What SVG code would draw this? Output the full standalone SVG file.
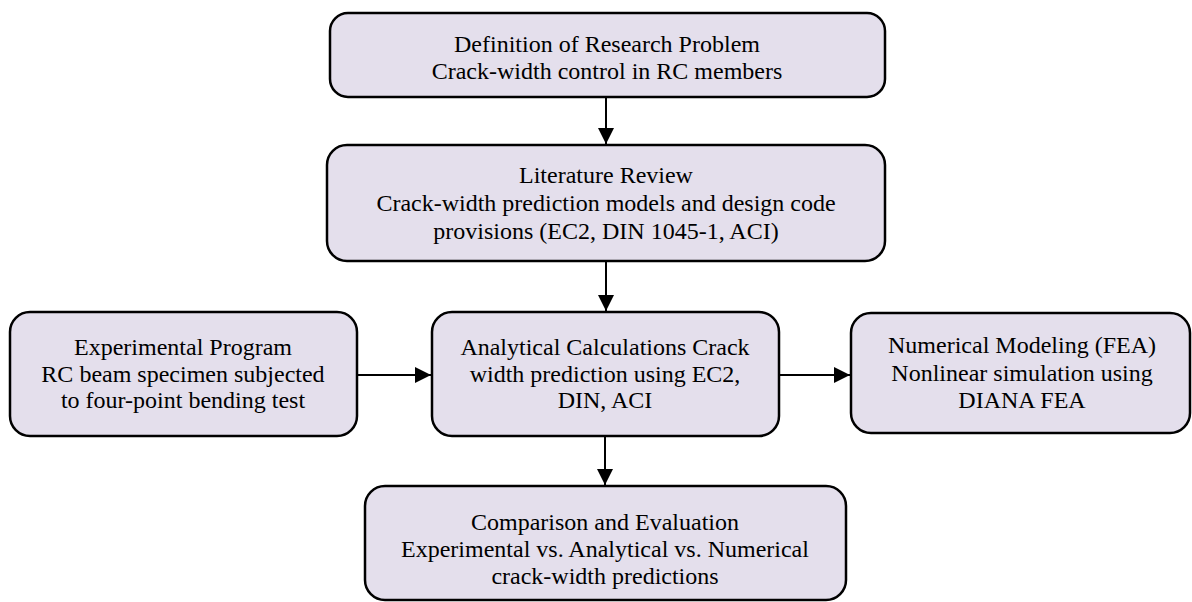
<svg xmlns="http://www.w3.org/2000/svg" width="1192" height="602" viewBox="0 0 1192 602">
<defs>
<style>
.box{fill:#e4dfec;stroke:#000;stroke-width:2.5}
.t{font-family:"Liberation Serif","Times New Roman",serif;font-size:24px;fill:#000;text-anchor:middle}
.c{stroke:#000;stroke-width:2;fill:none;marker-end:url(#ah)}
</style>
<marker id="ah" viewBox="0 0 16 16" refX="16" refY="8" markerWidth="16" markerHeight="16" markerUnits="userSpaceOnUse" orient="auto">
<path d="M0,0 L16,8 L0,16 Z" fill="#000"/>
</marker>
</defs>
<rect width="1192" height="602" fill="#fff"/>
<g id="connectors">
<line class="c" x1="606" y1="97" x2="606" y2="144"/>
<line class="c" x1="606" y1="261" x2="606" y2="311"/>
<line class="c" x1="357" y1="375" x2="431" y2="375"/>
<line class="c" x1="779" y1="375" x2="850" y2="375"/>
<line class="c" x1="605" y1="436" x2="605" y2="485"/>
</g>
<g id="n1">
<rect class="box" x="330" y="13" width="555" height="84" rx="18"/>
<text class="t" x="607" y="52">Definition of Research Problem</text>
<text class="t" x="607" y="79">Crack-width control in RC members</text>
</g>
<g id="n2">
<rect class="box" x="327" y="145" width="558" height="116" rx="20"/>
<text class="t" x="606" y="183">Literature Review</text>
<text class="t" x="606" y="211">Crack-width prediction models and design code</text>
<text class="t" x="606" y="239">provisions (EC2, DIN 1045-1, ACI)</text>
</g>
<g id="n3">
<rect class="box" x="10" y="312" width="347" height="124" rx="20"/>
<text class="t" x="183" y="355">Experimental Program</text>
<text class="t" x="183" y="382">RC beam specimen subjected</text>
<text class="t" x="183" y="408">to four-point bending test</text>
</g>
<g id="n4">
<rect class="box" x="432" y="312" width="347" height="124" rx="20"/>
<text class="t" x="605" y="355">Analytical Calculations Crack</text>
<text class="t" x="605" y="382">width prediction using EC2,</text>
<text class="t" x="605" y="408">DIN, ACI</text>
</g>
<g id="n5">
<rect class="box" x="851" y="313" width="339" height="120" rx="20"/>
<text class="t" x="1022" y="353">Numerical Modeling (FEA)</text>
<text class="t" x="1022" y="381">Nonlinear simulation using</text>
<text class="t" x="1022" y="408">DIANA FEA</text>
</g>
<g id="n6">
<rect class="box" x="365" y="486" width="481" height="114" rx="20"/>
<text class="t" x="605" y="530">Comparison and Evaluation</text>
<text class="t" x="605" y="557">Experimental vs. Analytical vs. Numerical</text>
<text class="t" x="605" y="584">crack-width predictions</text>
</g>
</svg>
